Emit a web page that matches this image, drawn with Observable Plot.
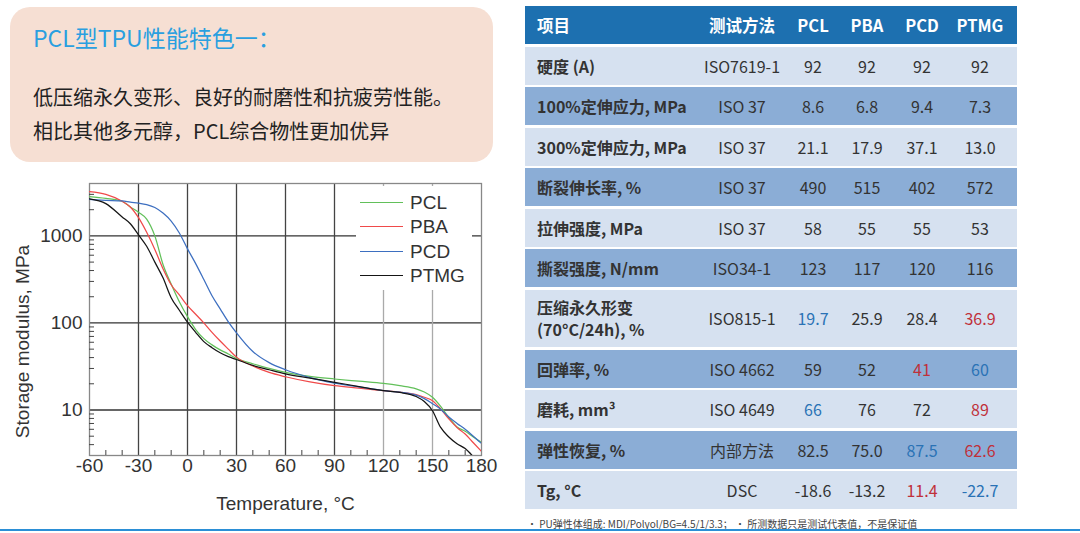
<!DOCTYPE html>
<html><head><meta charset="utf-8">
<script src="https://cdn.jsdelivr.net/npm/d3@7"></script>
<script src="https://cdn.jsdelivr.net/npm/@observablehq/plot@0.6"></script>
<style>
body{margin:0;width:1080px;height:533px;position:relative;background:#fff;overflow:hidden;font-family:"Noto Sans CJK SC","Noto Sans",sans-serif;}
#box{position:absolute;left:10px;top:7px;width:483px;height:155px;background:#f6dfd3;border-radius:20px;}
#box .t{position:absolute;left:23px;top:15px;font-size:23px;line-height:30px;color:#2a9fe0;white-space:nowrap;}
#box .b{position:absolute;left:23px;font-size:20px;line-height:28px;color:#222;white-space:nowrap;}
#chart{position:absolute;left:0;top:170px;}
#legend{position:absolute;left:356px;top:186px;width:116px;height:104px;background:#fff;font-family:"Liberation Sans",Arial,sans-serif;font-size:19px;color:#333;}
#legend .it{position:absolute;left:0;height:24px;line-height:24px;white-space:nowrap;width:116px;}
#legend .sw{position:absolute;left:4px;top:11px;width:43px;height:0;border-top:1.6px solid #000;}
#legend .lb{position:absolute;left:54px;top:0;}
#tbl{position:absolute;left:525px;top:6px;width:492px;}
.row{position:relative;height:38px;margin-bottom:2.5px;color:#333;font-size:16px;}
.row.dbl{height:57.5px;}
.hdr{background:#1d70b0;color:#fff;font-weight:700;font-size:16.5px;}
.light{background:#d6e1f0;}
.dark{background:#8badd6;}
.cell{position:absolute;top:0;bottom:0;display:flex;align-items:center;justify-content:center;transform:translateX(-50%);white-space:nowrap;}
.lab{left:12px;transform:none;justify-content:flex-start;font-weight:700;line-height:22px;white-space:pre;}
#foot{position:absolute;left:527px;top:516px;font-size:10px;line-height:16px;color:#444;white-space:nowrap;}
#rule{position:absolute;left:0;top:529px;width:1080px;height:2px;background:#2b8fd6;}
</style></head><body>
<div id="box">
  <div class="t">PCL型TPU性能特色一：</div>
  <div class="b" style="top:76px">低压缩永久变形、良好的耐磨性和抗疲劳性能。</div>
  <div class="b" style="top:110px">相比其他多元醇，PCL综合物性更加优异</div>
</div>
<div id="chart"></div>
<div id="legend"></div>
<div id="tbl"></div>
<div id="foot">· PU弹性体组成: MDI/Polyol/BG=4.5/1/3.3；&nbsp;· 所测数据只是测试代表值，不是保证值</div>
<div id="rule"></div>
<script>
// ---------- chart data (storage modulus, MPa vs temperature, °C) ----------
const temperature = [-60,-50,-40,-35,-30,-25,-20,-15,-10,-5,0,5,10,15,20,25,30,40,50,60,75,90,105,120,130,140,145,150,155,160,165,170,175,180];
const pclModulus  = [2830,2700,2500,2150,1870,1560,1000,470,280,175,118,84,66,56,49,44,39,34,30,27,24.3,22.7,21.4,20.2,19,17.5,16.1,14,11,8.2,6.4,5.7,4.9,4.24];
const pbaModulus  = [3230,3000,2500,2150,1620,1100,700,420,275,210,158,126,100,78,62,50,40.5,32,27,24.1,21,19,17.8,16.7,16,15,14,12.8,10.3,7.9,6.3,5.3,4.2,3.34];
const pcdModulus  = [2620,2560,2520,2440,2380,2290,2120,1830,1480,1080,710,480,315,205,145,103,77,47,35,29,23.6,20.4,18.4,16.7,16,14.8,13.5,11.8,10.2,8.3,7,6,5,4.13];
const ptmgModulus = [2660,2350,1650,1380,1030,760,500,330,195,140,102,78,61,52,45.5,41,38,32.5,29,26,23.2,20.8,18.6,16.7,15.9,14.3,12.5,9.8,6.3,4.9,4.1,3.6,2.9,null];
const seriesNames = ["PCL","PBA","PCD","PTMG"];
const seriesColors = ["#62c05a","#f04a4a","#3d6fc0","#151515"];
const xTicks = [-60,-30,0,30,60,90,120,150,180];
const xMinorTicks = [-50,-40,-20,-10,10,20,40,50,70,80,100,110,130,140,160,170];
const xGridDark = [-30,0,30,60,90];
const xGridLight = [120,150];
const yTicks = [10,100,1000];
const yMinorTicks = [4,5,6,7,8,9,20,30,40,50,60,70,80,90,200,300,400,500,600,700,800,900,2000,3000];
const xLabel = "Temperature, °C";
const yLabel = "Storage modulus, MPa";

// ---------- table data ----------
const tableHeaders = ["项目","测试方法","PCL","PBA","PCD","PTMG"];
const tableItems = ["硬度 (A)","100%定伸应力, MPa","300%定伸应力, MPa","断裂伸长率, %","拉伸强度, MPa","撕裂强度, N/mm","压缩永久形变\n(70°C/24h), %","回弹率, %","磨耗, mm³","弹性恢复, %","Tg, °C"];
const testMethods = ["ISO7619-1","ISO 37","ISO 37","ISO 37","ISO 37","ISO34-1","ISO815-1","ISO 4662","ISO 4649","内部方法","DSC"];
const pclProps  = ["92","8.6","21.1","490","58","123","19.7","59","66","82.5","-18.6"];
const pbaProps  = ["92","6.8","17.9","515","55","117","25.9","52","76","75.0","-13.2"];
const pcdProps  = ["92","9.4","37.1","402","55","120","28.4","41","72","87.5","11.4"];
const ptmgProps = ["92","7.3","13.0","572","53","116","36.9","60","89","62.6","-22.7"];
const betterCells = [[6,"PCL"],[7,"PTMG"],[8,"PCL"],[9,"PCD"],[10,"PTMG"]];
const worseCells  = [[6,"PTMG"],[7,"PCD"],[8,"PTMG"],[9,"PTMG"],[10,"PCD"]];

// ---------- chart ----------
const seriesValues = [pclModulus, pbaModulus, pcdModulus, ptmgModulus];
const rows = seriesNames.flatMap((s, i) =>
  temperature.map((t, j) => ({series: s, t, v: seriesValues[i][j]})).filter(d => d.v != null));

const chart = Plot.plot({
  width: 500, height: 360,
  marginLeft: 89, marginRight: 19, marginTop: 13, marginBottom: 75,
  style: {fontFamily: "'Liberation Sans', Arial, sans-serif", fontSize: "19px", color: "#333", background: "transparent"},
  x: {domain: [-60, 180]},
  y: {type: "log", domain: [3, 4000]},
  color: {domain: seriesNames, range: seriesColors},
  marks: [
    Plot.ruleY(yTicks, {stroke: "#333", strokeWidth: 1.3}),
    Plot.ruleX(xGridDark, {stroke: "#444", strokeWidth: 1.3}),
    Plot.ruleX(xGridLight, {stroke: "#aaa", strokeWidth: 1.3}),
    Plot.frame({stroke: "#888", strokeWidth: 1.3}),
    Plot.axisX(xMinorTicks, {tickSize: -5, tickFormat: () => "", label: null, stroke: "#444"}),
    Plot.axisY(yMinorTicks, {tickSize: -5, tickFormat: () => "", label: null, stroke: "#444"}),
    Plot.axisX(xTicks, {tickSize: 0, tickPadding: 3, tickFormat: d => String(d), label: xLabel, labelAnchor: "center", labelArrow: "none", labelOffset: 54, fill: "#333"}),
    Plot.axisY(yTicks, {tickSize: 0, tickPadding: 7, tickFormat: d => String(d), label: null, fill: "#333"}),
    Plot.text([yLabel], {frameAnchor: "left", textAnchor: "middle", rotate: -90, dx: -67, dy: 22, fill: "#333", fontSize: 19}),
    Plot.line(rows, {x: "t", y: "v", stroke: "series", strokeWidth: 1.25, curve: "monotone-x", clip: true})
  ]
});
document.getElementById("chart").appendChild(chart);

// legend
const lg = document.getElementById("legend");
seriesNames.forEach((s, i) => {
  const it = document.createElement("div");
  it.className = "it";
  it.style.top = (5 + i * 24.3) + "px";
  it.innerHTML = `<div class="sw" style="border-top-color:${seriesColors[i]}"></div><div class="lb">${s}</div>`;
  lg.appendChild(it);
});

// ---------- table ----------
const colCenters = [217, 288, 342, 397, 455];
const tbl = document.getElementById("tbl");
function addRow(cls, cells, colors) {
  const r = document.createElement("div");
  r.className = "row " + cls;
  const lab = document.createElement("div");
  lab.className = "cell lab";
  lab.textContent = cells[0];
  r.appendChild(lab);
  cells.slice(1).forEach((c, k) => {
    const d = document.createElement("div");
    d.className = "cell";
    d.style.left = colCenters[k] + "px";
    d.textContent = c;
    if (colors && colors[k]) d.style.color = colors[k];
    r.appendChild(d);
  });
  tbl.appendChild(r);
}
addRow("hdr", tableHeaders);
tableItems.forEach((item, i) => {
  const colors = [null];
  seriesNames.forEach(s => {
    let c = null;
    if (betterCells.some(([r, n]) => r === i && n === s)) c = "#2a72b5";
    if (worseCells.some(([r, n]) => r === i && n === s)) c = "#c0303a";
    colors.push(c);
  });
  const cls = (i % 2 === 0 ? "light" : "dark") + (item.includes("\n") ? " dbl" : "");
  addRow(cls, [item, testMethods[i], pclProps[i], pbaProps[i], pcdProps[i], ptmgProps[i]], colors);
});
</script>
</body></html>
